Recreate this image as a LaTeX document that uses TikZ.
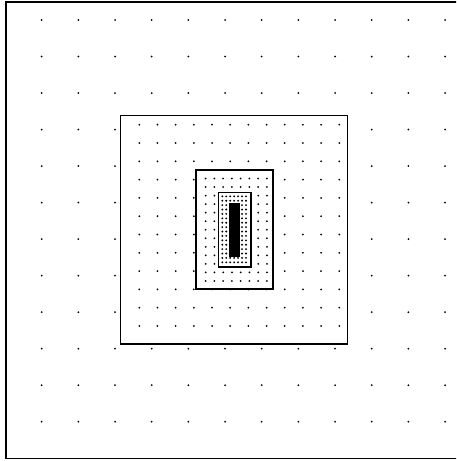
\documentclass[tikz,border=0pt]{standalone}
\begin{document}
\begin{tikzpicture}[x=1pt,y=-1pt,
  gridbox/.style={draw=black,line width=1.4pt,fill=white},
  blackcell/.style={fill=black}]
\useasboundingbox (0,0) rectangle (456,461);
\clip (0,0) rectangle (456,461);
% outer domain (right edge lies outside the picture)
\draw[line width=1.5pt] (6,2) rectangle (463,458.3);
% level 0 points
\foreach \i in {0,...,11} \foreach \j in {0,...,11}
  \fill ({41.7+36.67*\i},{20+36.52*\j}) circle (1pt);
% level 1
\filldraw[gridbox] (120.7,115.7) rectangle (347.3,344);
\foreach \i in {0,...,11} \foreach \j in {0,...,11}
  \fill ({139.3+18.18*\i},{124.7+18.3*\j}) circle (1pt);
% level 2
\filldraw[gridbox] (196,170) rectangle (273,289);
\foreach \i in {0,...,7} \foreach \j in {0,...,12}
  \fill ({205.7+8.75*\i},{178.5+8.54*\j}) circle (1pt);
% level 3
\filldraw[gridbox] (218.5,192.5) rectangle (251,267);
\foreach \i in {0,...,6} \foreach \j in {0,...,15}
  \fill ({222.3+3.95*\i},{196.3+4.4*\j}) circle (1.05pt);
% finest level (solid)
\fill[blackcell] (229,202.7) rectangle (239.5,257);
\end{tikzpicture}
\end{document}
